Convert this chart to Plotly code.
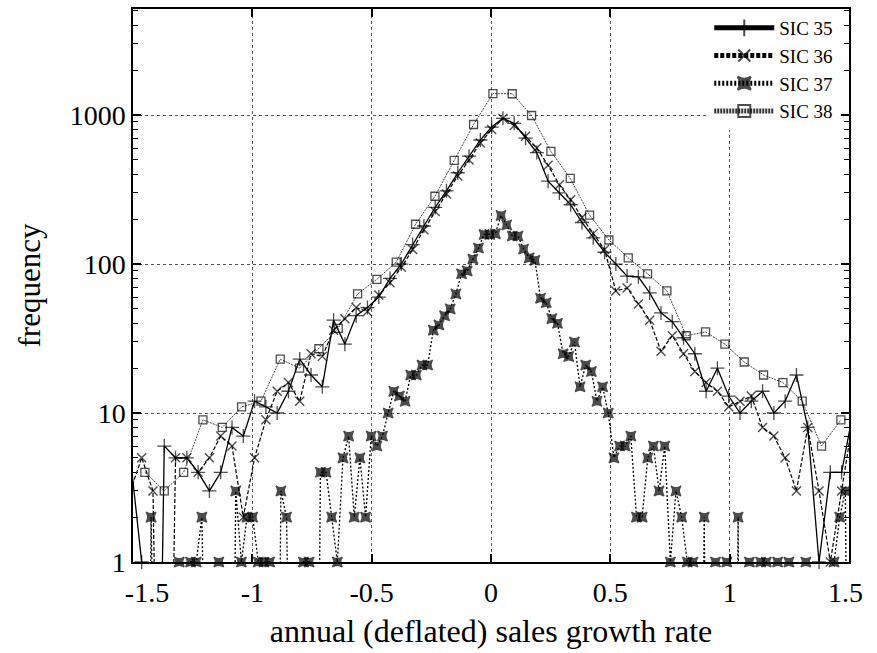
import numpy as np
import plotly.graph_objects as go

# ---------------------------------------------------------------------------
# Histogram data: frequency of annual (deflated) sales growth rates
# Bin definitions (first bin centre, bin width)
# ---------------------------------------------------------------------------
BINS_3536 = {"start": -1.5109, "width": 0.0473}   # SIC 35 and SIC 36
BINS_37 = {"start": -1.49525, "width": 0.02365}   # SIC 37 (finer bins)
BINS_38 = {"start": -1.45, "width": 0.081}        # SIC 38

sic35 = [5, 1, 0, 6, 5, 5, 4, 3, 4, 8, 7, 12, 11, 10, 14, 23, 18, 15, 42, 29,
         45, 51, 60, 80, 100, 135, 180, 240, 310, 410, 530, 680, 830, 950,
         880, 700, 560, 360, 300, 250, 190, 150, 120, 100, 83, 82, 64, 47, 41,
         32, 25, 14, 20, 13, 10, 12, 14, 10, 12, 18, 8, 1, 4, 4, 10]

sic36 = [3, 5, 3, 0, 5, 5, 4, 5, 7, 6, 2, 5, 9, 14, 16, 12, 25, 24, 36, 43,
         51, 48, 62, 75, 95, 125, 170, 225, 295, 390, 500, 650, 800, 950,
         850, 720, 600, 460, 340, 270, 205, 160, 125, 66, 69, 54, 42, 26, 33,
         25, 19, 16, 14, 11, 12, 13, 8, 7, 5, 3, 8, 3, 1, 3, 9]

sic37 = [0, 0, 0, 2, 0, 0, 0, 0, 1, 0,
         1, 1, 2, 0, 0, 1, 0, 0, 3, 1,
         2, 2, 1, 1, 1, 0, 3, 2, 0, 0,
         1, 1, 0, 4, 4, 2, 1, 5, 7, 2,
         5, 2, 7, 6, 7, 10, 14, 13, 12, 18,
         18, 21, 21, 36, 39, 45, 50, 63, 86, 90,
         108, 128, 158, 158, 160, 212, 183, 154, 154, 126,
         110, 106, 59, 55, 43, 40, 25, 24, 30, 15,
         21, 19, 12, 15, 10, 5, 6, 6, 7, 2,
         2, 5, 6, 3, 6, 1, 3, 2, 1, 1,
         0, 2, 0, 1, 0, 1, 0, 2, 0, 1,
         0, 1, 1, 0, 1, 0, 1, 0, 0, 1,
         0, 0, 0, 0, 1, 2, 3, 0]

sic38 = [4, 3, 4, 9, 8, 11, 12, 23, 20, 27, 37, 63, 79, 103, 185, 285, 496,
         864, 1392, 1390, 993, 570, 376, 213, 145, 110, 86, 66, 33, 35, 29,
         22, 18, 16, 12, 6, 9]

NBSP = "\u00a0"
X_TICKS = [-1.5, -1, -0.5, 0, 0.5, 1, 1.5]
# the outermost labels are nudged inwards, away from the frame corners
X_TICK_TEXT = [NBSP * 4 + "-1.5", "-1", "-0.5", "0", "0.5", "1", "1.5" + NBSP]
Y_TICKS = [1, 10, 100, 1000]
Y_TICK_TEXT = ["1", "10", "100", "1000"]

X_RANGE = (-1.5, 1.5)
Y_TOP = 5150
EMPTY_FLOOR = 1e-4   # empty bins fall far below the log axis

FONT = "Liberation Serif, Times New Roman, serif"


def bin_centres(bins, n):
    return bins["start"] + bins["width"] * np.arange(n)


fig = go.Figure()


def add_series(name, bins, counts, dash, symbol, msize, mwidth, lwidth, lcolor):
    c = np.asarray(counts, dtype=float)
    x = bin_centres(bins, len(c))
    y = np.where(c > 0, c, EMPTY_FLOOR)
    shown = (c > 0) & (x >= X_RANGE[0] - 1e-9) & (x <= X_RANGE[1] + 1e-9)
    sizes = np.where(shown, msize, 0)
    fig.add_trace(go.Scatter(
        x=x, y=y, name=name, mode="lines+markers",
        line=dict(color=lcolor, width=lwidth, dash=dash),
        marker=dict(symbol=symbol, size=sizes, color="black",
                    line=dict(color="black", width=mwidth)),
        cliponaxis=False,
    ))


add_series("SIC 35", BINS_3536, sic35, "solid", "cross-thin-open", 10, 1.3, 1.3, "black")
add_series("SIC 36", BINS_3536, sic36, "4px,2px", "x-thin-open", 9, 1.4, 1.2, "black")
add_series("SIC 37", BINS_37, sic37, "2px,2px", "star-square", 9, 1.4, 1.3, "black")
add_series("SIC 38", BINS_38, sic38, "2px,1px", "square-open", 8, 1.3, 0.9, "#333333")

minor_vals = [m * 10 ** e for e in range(4) for m in range(2, 10) if m * 10 ** e < Y_TOP]

axis_common = dict(
    showline=True, linecolor="black", linewidth=1.5, mirror="ticks",
    ticks="inside", ticklen=8, tickwidth=1.5, tickcolor="black",
    showgrid=True, gridcolor="#555555", griddash="dot", gridwidth=1,
    zeroline=False, tickfont=dict(family=FONT, size=28, color="black"),
)

fig.update_xaxes(
    range=list(X_RANGE), tickmode="array", tickvals=X_TICKS, ticktext=X_TICK_TEXT,
    ticklabelstandoff=5,
    title=dict(text="annual (deflated) sales growth rate",
               font=dict(family=FONT, size=32, color="black"), standoff=12),
    **axis_common,
)
fig.update_yaxes(
    type="log", range=[0, np.log10(Y_TOP)], tickmode="array",
    tickvals=Y_TICKS, ticktext=Y_TICK_TEXT,
    minor=dict(tickmode="array", tickvals=minor_vals, ticks="inside",
               ticklen=5, tickwidth=1.2, tickcolor="black", showgrid=False),
    title=dict(text="frequency", font=dict(family=FONT, size=31, color="black"),
               standoff=20),
    **axis_common,
)

fig.update_layout(
    width=877, height=653,
    margin=dict(l=133, r=24, t=7, b=91),
    paper_bgcolor="white", plot_bgcolor="white",
    font=dict(family=FONT, color="black"),
    showlegend=True,
    legend=dict(x=0.985, y=1.0, xanchor="right", yanchor="top",
                bgcolor="white", borderwidth=0,
                font=dict(family=FONT, size=19, color="black"),
                itemsizing="constant", itemwidth=60,
                tracegroupgap=0),
)

fig.write_html("out.html")
